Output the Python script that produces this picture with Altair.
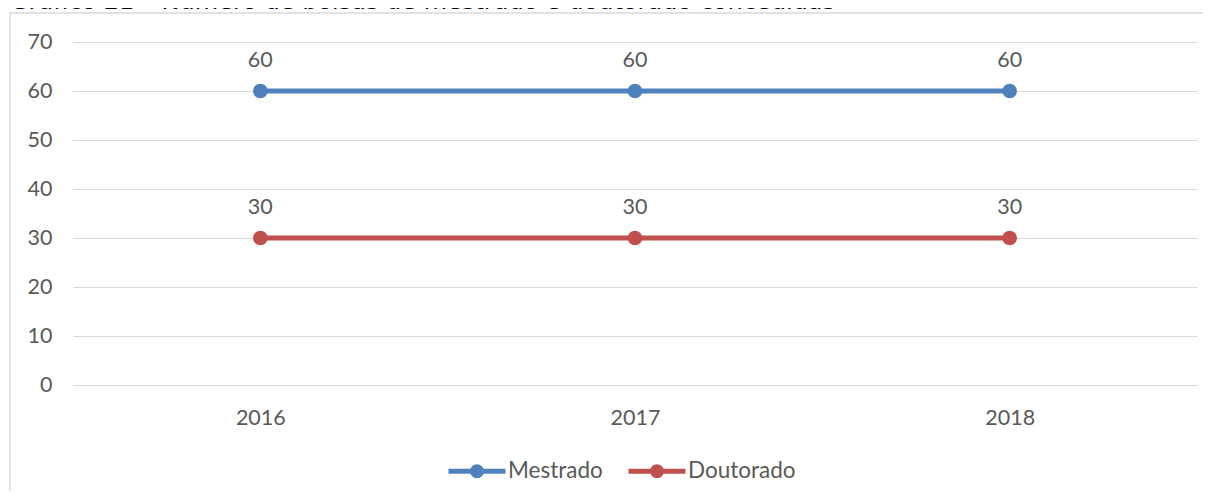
import altair as alt
import pandas as pd

years = ["2016", "2017", "2018"]
mestrado = [60, 60, 60]
doutorado = [30, 30, 30]
series = ["Mestrado", "Doutorado"]
colors = ["#4F81BD", "#C0504D"]
y_ticks = [0, 10, 20, 30, 40, 50, 60, 70]
title_text = "Gráfico 21 – Número de bolsas de mestrado e doutorado concedidas"

rows = []
for name, vals in zip(series, [mestrado, doutorado]):
    for yr, v in zip(years, vals):
        rows.append({"Ano": yr, "Série": name, "Valor": v})
df = pd.DataFrame(rows)

W, H = 1124, 343
FONT = "Lato"
GRAY = "#595959"

x_enc = alt.X(
    "Ano:O",
    scale=alt.Scale(type="point", padding=0.5),
    axis=alt.Axis(title=None, labelAngle=0, domain=False, ticks=False, grid=False,
                  labelPadding=22, labelFont=FONT, labelFontSize=21.5, labelColor=GRAY),
)
y_enc = alt.Y(
    "Valor:Q",
    scale=alt.Scale(domain=[0, 70], nice=False),
    axis=alt.Axis(title=None, values=y_ticks, domain=False, ticks=False, grid=True,
                  gridColor="#D9D9D9", gridWidth=1, labelPadding=21,
                  labelFont=FONT, labelFontSize=21.5, labelColor=GRAY),
)
cscale = alt.Scale(domain=series, range=colors)

legend = alt.Legend(
    title=None, orient="none", legendX=373, legendY=398, direction="horizontal",
    symbolType="M-1,0L1,0M0.158,0A0.158,0.158 0 1,1 -0.158,0A0.158,0.158 0 1,1 0.158,0Z",
    symbolSize=3249, symbolStrokeWidth=5, labelFont=FONT, labelFontSize=22.5,
    labelColor=GRAY, labelOffset=0, columnPadding=15, padding=0,
)

base = alt.Chart(df)

lines = base.mark_line(strokeWidth=5, strokeCap="round").encode(
    x=x_enc, y=y_enc,
    color=alt.Color("Série:N", scale=cscale, legend=legend),
)

points = base.mark_point(filled=True, size=160, opacity=1).encode(
    x=x_enc, y=y_enc,
    color=alt.Color("Série:N", scale=cscale, legend=legend),
    stroke=alt.Stroke("Série:N", scale=cscale, legend=legend),
)

labels = base.mark_text(font=FONT, fontSize=21.5, color=GRAY, baseline="alphabetic", dy=-24).encode(
    x=x_enc, y=y_enc, text="Valor:Q",
)

title_df = pd.DataFrame({"t": [title_text]})
title = alt.Chart(title_df).mark_text(
    font="DejaVu Sans", fontSize=24, color="#000000", align="left", baseline="alphabetic"
).encode(x=alt.value(-63), y=alt.value(-33.5), text="t:N")

top_line = alt.Chart(title_df).mark_rule(stroke="#D9D9D9", strokeWidth=1.5).encode(
    x=alt.value(-63), x2=alt.value(1138), y=alt.value(-29)
)
left_line = alt.Chart(title_df).mark_rule(stroke="#D9D9D9", strokeWidth=1.5).encode(
    x=alt.value(-63), y=alt.value(-29), y2=alt.value(457)
)

chart = alt.layer(top_line, left_line, lines, points, labels, title).properties(
    width=W, height=H,
    autosize=alt.AutoSizeParams(type="none"),
    padding={"left": 65, "top": 34, "right": 6, "bottom": 106},
    background="white",
).configure_view(stroke=None)

chart.save("out.html", embed_options={"renderer": "svg", "actions": False})
